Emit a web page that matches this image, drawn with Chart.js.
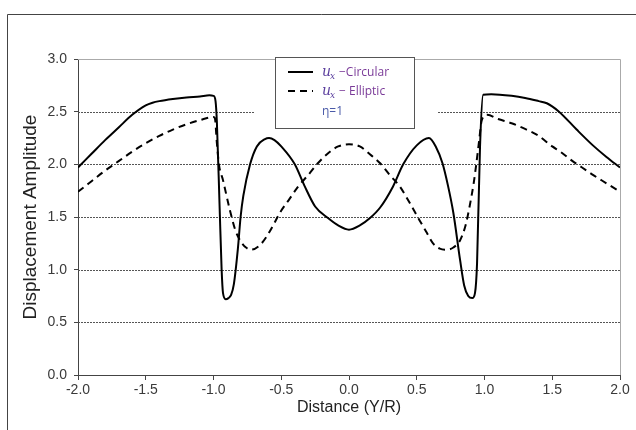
<!DOCTYPE html>
<html>
<head>
<meta charset="utf-8">
<script src="https://cdn.jsdelivr.net/npm/chart.js@4.4.1/dist/chart.umd.min.js"></script>
<style>
html, body { margin: 0; padding: 0; background: #fff; }
#wrap { width: 636px; height: 430px; }
</style>
</head>
<body>
<div id="wrap"><canvas id="chart" width="636" height="430"></canvas></div>
<script>
// Circular (solid) curve
const circX = [-2.0,-1.9,-1.8,-1.7,-1.6,-1.5,-1.45,-1.4,-1.3,-1.2,-1.1,-1.03,-1.0,-0.985,-0.975,-0.955,-0.94,-0.93,-0.91,-0.89,-0.87,-0.85,-0.82,-0.80,-0.78,-0.73,-0.68,-0.62,-0.59,-0.55,-0.5,-0.4,-0.33,-0.25,-0.155,-0.08,0.0,
               0.08,0.155,0.23,0.325,0.40,0.5,0.59,0.64,0.69,0.73,0.77,0.82,0.85,0.88,0.91,0.93,0.945,0.967,0.99,1.05,1.2,1.3,1.4,1.46,1.55,1.68,1.8,1.9,2.0];
const circY = [1.97,2.10,2.23,2.35,2.47,2.56,2.585,2.60,2.62,2.635,2.645,2.655,2.65,2.60,2.40,1.60,1.00,0.78,0.72,0.73,0.76,0.86,1.20,1.50,1.70,2.00,2.17,2.24,2.25,2.23,2.17,2.00,1.80,1.60,1.49,1.42,1.38,
               1.42,1.49,1.59,1.79,2.00,2.18,2.25,2.17,2.01,1.80,1.54,1.09,0.85,0.75,0.73,0.78,1.06,2.17,2.66,2.665,2.65,2.63,2.60,2.58,2.50,2.33,2.18,2.07,1.97];

// Elliptic (dashed) curve
const ellX = [-2.0,-1.9,-1.8,-1.7,-1.6,-1.5,-1.4,-1.3,-1.2,-1.1,-1.0,-0.99,-0.975,-0.96,-0.93,-0.88,-0.84,-0.80,-0.76,-0.72,-0.66,-0.61,-0.56,-0.51,-0.44,-0.375,-0.3,-0.23,-0.15,-0.08,0.0,
              0.08,0.15,0.23,0.3,0.375,0.45,0.52,0.57,0.62,0.67,0.72,0.77,0.82,0.86,0.89,0.92,0.94,0.96,0.98,1.02,1.1,1.2,1.31,1.4,1.5,1.56,1.65,1.72,1.8,1.9,2.0];
const ellY = [1.74,1.84,1.94,2.03,2.12,2.20,2.27,2.33,2.38,2.42,2.45,2.44,2.20,2.00,1.85,1.57,1.38,1.27,1.21,1.19,1.23,1.31,1.42,1.54,1.67,1.79,1.90,2.01,2.11,2.17,2.19,
              2.17,2.10,2.01,1.90,1.79,1.63,1.47,1.36,1.25,1.20,1.19,1.21,1.28,1.42,1.60,1.82,2.01,2.22,2.42,2.47,2.43,2.39,2.33,2.27,2.17,2.12,2.03,1.97,1.90,1.82,1.74];

const xTicks = [-2.0,-1.5,-1.0,-0.5,0.0,0.5,1.0,1.5,2.0];
const yTicks = [0.0,0.5,1.0,1.5,2.0,2.5,3.0];
const seriesNames = ['Circular', 'Elliptic'];
const paramLabel = 'η=1';

function toPoints(xs, ys) {
    return xs.map((x, i) => ({ x: x, y: ys[i] }));
}

// Gridlines, frame and legend
const decoPlugin = {
    id: 'deco',
    beforeDatasetsDraw(chart) {
        const { ctx, chartArea: a, scales } = chart;
        ctx.save();
        ctx.strokeStyle = '#555';
        ctx.lineWidth = 1;
        ctx.setLineDash([2, 1]);
        yTicks.forEach(v => {
            if (v <= 0 || v >= 3) return;
            const py = Math.round(scales.y.getPixelForValue(v)) + 0.5;
            ctx.beginPath(); ctx.moveTo(a.left, py); ctx.lineTo(a.right, py); ctx.stroke();
        });
        ctx.setLineDash([]);
        ctx.strokeStyle = '#aaa';
        ctx.beginPath();
        ctx.moveTo(a.left, a.top + 0.5); ctx.lineTo(a.right + 0.5, a.top + 0.5); ctx.lineTo(a.right + 0.5, a.bottom);
        ctx.stroke();
        ctx.restore();
    },
    afterDraw(chart) {
        const { ctx } = chart;
        ctx.save();
        // outer frame (left and top only)
        ctx.strokeStyle = '#444';
        ctx.lineWidth = 1;
        ctx.beginPath();
        ctx.moveTo(7.5, 430); ctx.lineTo(7.5, 14.5); ctx.lineTo(636, 14.5);
        ctx.stroke();

        // legend
        const lx = 275, ly = 57, lw = 139, lh = 71;
        ctx.fillStyle = '#fff';
        ctx.fillRect(255, 106, 182, 10);
        ctx.fillRect(lx, ly, lw, lh);
        ctx.strokeStyle = '#555';
        ctx.strokeRect(lx + 0.5, ly + 0.5, lw, lh);

        const rows = [72, 91];
        chart.data.datasets.forEach((ds, i) => {
            const y = rows[i];
            ctx.strokeStyle = '#000';
            ctx.lineWidth = 2;
            ctx.setLineDash(ds.borderDash || []);
            ctx.beginPath(); ctx.moveTo(288, y); ctx.lineTo(313, y); ctx.stroke();
            ctx.setLineDash([]);
            ctx.fillStyle = '#5b3f9e';
            ctx.textBaseline = 'alphabetic';
            ctx.font = 'italic 14px "DejaVu Serif"';
            ctx.fillText('u', 322, y + 4);
            ctx.font = 'italic 9px "DejaVu Serif"';
            ctx.fillText('x', 330, y + 7);
            ctx.fillStyle = '#7a3a98';
            ctx.font = '12px "Open Sans"';
            ctx.fillText((i === 0 ? '\u2212' : '\u2212 ') + seriesNames[i], 339, y + 4);
        });
        ctx.fillStyle = '#4a5aa8';
        ctx.font = '12px "Open Sans"';
        ctx.fillText(paramLabel, 322, 115);
        ctx.restore();
    }
};

new Chart(document.getElementById('chart'), {
    type: 'scatter',
    data: {
        datasets: [
            { label: seriesNames[0], data: toPoints(circX, circY), showLine: true, borderColor: '#000', borderWidth: 2, pointRadius: 0, cubicInterpolationMode: 'monotone' },
            { label: seriesNames[1], data: toPoints(ellX, ellY), showLine: true, borderColor: '#000', borderWidth: 2, borderDash: [7, 5], pointRadius: 0, cubicInterpolationMode: 'monotone' }
        ]
    },
    options: {
        responsive: false,
        animation: false,
        layout: { padding: { top: 59, right: 16, left: 0, bottom: 0 } },
        plugins: { legend: { display: false }, tooltip: { enabled: false } },
        scales: {
            x: {
                type: 'linear', min: -2, max: 2,
                afterBuildTicks: s => { s.ticks = xTicks.map(v => ({ value: v })); },
                afterFit: s => { s.height = 55; },
                ticks: { callback: v => v.toFixed(1), font: { family: 'Liberation Sans', size: 14 }, color: '#3a3a3a', padding: 2, maxRotation: 0 },
                grid: { drawOnChartArea: false, tickLength: 5, tickColor: '#444' },
                border: { color: '#444', width: 1 },
                title: { display: true, text: 'Distance (Y/R)', font: { family: 'Liberation Sans', size: 16 }, color: '#222', padding: { top: 0, bottom: 13 } }
            },
            y: {
                type: 'linear', min: 0, max: 3,
                afterBuildTicks: s => { s.ticks = yTicks.map(v => ({ value: v })); },
                afterFit: s => { s.width = 78; },
                ticks: { callback: v => v.toFixed(1), font: { family: 'Liberation Sans', size: 14 }, color: '#3a3a3a', padding: 7 },
                grid: { drawOnChartArea: false, tickLength: 4, tickColor: '#444' },
                border: { color: '#444', width: 1 },
                title: { display: true, text: 'Displacement Amplitude', font: { family: 'Liberation Sans', size: 19 }, color: '#222', padding: { top: 19 } }
            }
        }
    },
    plugins: [decoPlugin]
});
</script>
</body>
</html>
